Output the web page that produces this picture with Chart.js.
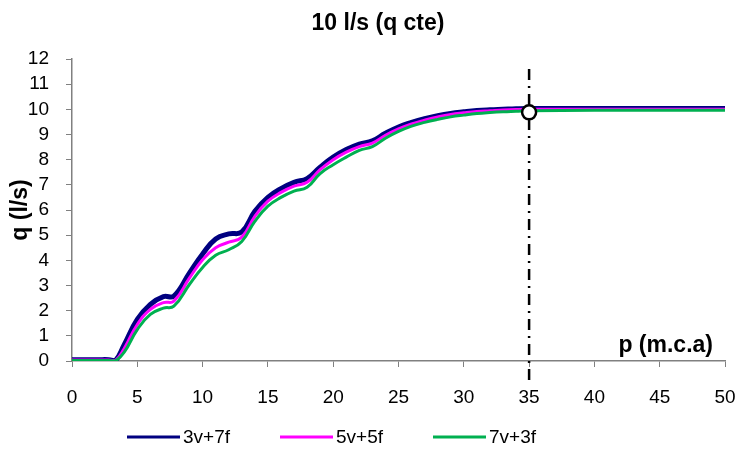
<!DOCTYPE html>
<html>
<head>
<meta charset="utf-8">
<title>10 l/s (q cte)</title>
<script src="https://cdn.jsdelivr.net/npm/chart.js@4.4.1/dist/chart.umd.min.js"></script>
<style>
    html, body { margin: 0; padding: 0; background: #fff; }
</style>
</head>
<body>
<canvas id="chartCurva" width="739" height="450"></canvas>
<script>
// pressão (m.c.a) e vazão (l/s) para cada combinação de válvulas
const pressao = [0, 1, 2, 2.8, 3.3, 4, 5, 6, 7, 7.8, 9, 10, 11, 12, 13, 14, 15, 16, 17, 18, 19,
    20, 21, 22, 23, 24, 25, 26, 27, 28, 29, 30, 31, 32, 33, 34, 35, 40, 45, 50];
const q3v7f = [0.05, 0.05, 0.05, 0.05, 0.0, 0.65, 1.65, 2.25, 2.56, 2.58, 3.5, 4.25, 4.85, 5.05, 5.13,
    5.95, 6.5, 6.85, 7.1, 7.25, 7.7, 8.1, 8.4, 8.62, 8.75, 9.05, 9.3, 9.48, 9.63, 9.75, 9.84, 9.9,
    9.95, 9.98, 10.0, 10.02, 10.03, 10.03, 10.03, 10.03];
const q5v5f = [0.04, 0.04, 0.04, 0.04, 0.0, 0.5, 1.45, 2.05, 2.32, 2.38, 3.3, 4.02, 4.5, 4.72, 4.92,
    5.75, 6.35, 6.7, 6.95, 7.1, 7.6, 8.0, 8.3, 8.52, 8.66, 8.97, 9.22, 9.42, 9.57, 9.7, 9.8, 9.86,
    9.91, 9.94, 9.97, 9.99, 10.0, 10.0, 10.0, 10.0];
const q7v3f = [0.02, 0.02, 0.02, 0.02, 0.0, 0.35, 1.25, 1.85, 2.1, 2.18, 3.05, 3.72, 4.2, 4.42, 4.75,
    5.55, 6.15, 6.5, 6.75, 6.9, 7.45, 7.8, 8.1, 8.37, 8.52, 8.85, 9.12, 9.33, 9.48, 9.6, 9.7, 9.77,
    9.83, 9.87, 9.9, 9.92, 9.94, 9.96, 9.96, 9.96];

const seriesLabels = ["3v+7f", "5v+5f", "7v+3f"];
const seriesColors = ["#000080", "#FF00FF", "#00B050"];
const seriesWidths = [5, 3, 3];

// ponto de operação e linha de referência em p = 35
const pontoOperacao = { x: 35, y: 9.88 };
const linhaRef = { x: 35, yMin: -0.75, yMax: 11.75 };

const fonte = '"Liberation Sans", Arial, sans-serif';

function pontos(serie) {
    return pressao.map((p, i) => ({ x: p, y: serie[i] }));
}

// título, rótulo do eixo x e legenda desenhados à mão
const decoracao = {
    id: "decoracao",
    afterDraw(chart) {
        const { ctx, chartArea } = chart;
        ctx.save();
        ctx.fillStyle = "#000";
        ctx.textBaseline = "middle";

        ctx.font = "bold 23px " + fonte;
        ctx.textAlign = "center";
        ctx.fillText("10 l/s (q cte)", 378, 24);

        ctx.textAlign = "right";
        ctx.fillText("p (m.c.a)", chartArea.right - 12, chartArea.bottom - 15);

        ctx.font = "19px " + fonte;
        ctx.textAlign = "left";
        seriesLabels.forEach((lab, i) => {
            const x0 = 127 + i * 153;
            const y0 = 437;
            ctx.strokeStyle = seriesColors[i];
            ctx.lineWidth = 3;
            ctx.beginPath();
            ctx.moveTo(x0, y0);
            ctx.lineTo(x0 + 53, y0);
            ctx.stroke();
            ctx.fillText(lab, x0 + 56, y0 + 1);
        });
        ctx.restore();
    },
};

const datasets = seriesLabels.map((lab, i) => ({
    label: lab,
    data: pontos([q3v7f, q5v5f, q7v3f][i]),
    borderColor: seriesColors[i],
    backgroundColor: seriesColors[i],
    borderWidth: seriesWidths[i],
    pointRadius: 0,
    tension: 0.45,
    order: 3 - i,
}));

datasets.push({
    label: "ref",
    data: [{ x: linhaRef.x, y: linhaRef.yMin }, { x: linhaRef.x, y: linhaRef.yMax }],
    borderColor: "#000",
    borderWidth: 2.5,
    borderDash: [11, 6, 2, 6],
    pointRadius: 0,
    clip: false,
    order: 0,
});

datasets.push({
    label: "op",
    data: [pontoOperacao],
    showLine: false,
    pointRadius: 7,
    pointBorderWidth: 2.5,
    pointBackgroundColor: "#fff",
    pointBorderColor: "#000",
    clip: false,
    order: -1,
});

const eixoCor = "#808080";

const config = {
    type: "line",
    data: { datasets: datasets },
    options: {
        responsive: false,
        animation: false,
        layout: { padding: { top: 59, right: 14, bottom: 29, left: 0 } },
        plugins: {
            legend: { display: false },
            title: { display: false },
            tooltip: { enabled: false },
        },
        scales: {
            x: {
                type: "linear",
                min: 0,
                max: 50,
                ticks: { stepSize: 5, autoSkip: false, color: "#000", padding: 19, maxRotation: 0, font: { family: fonte, size: 19 } },
                grid: { drawOnChartArea: false, tickLength: 6, color: eixoCor },
                border: { color: eixoCor, width: 1.5 },
                afterFit: (s) => {
                    s.height = 60;
                    s.paddingLeft = 0;
                    s.paddingRight = 0;
                },
            },
            y: {
                min: 0,
                max: 12,
                ticks: { stepSize: 1, autoSkip: false, color: "#000", padding: 17, font: { family: fonte, size: 19 } },
                grid: { drawOnChartArea: false, tickLength: 6, color: eixoCor },
                border: { color: eixoCor, width: 1.5 },
                title: {
                    display: true,
                    text: "q (l/s)",
                    color: "#000",
                    padding: { top: 7, bottom: 0 },
                    font: { family: fonte, size: 23, weight: "bold" },
                },
                afterFit: (s) => {
                    s.width = 72;
                    s.paddingTop = 0;
                    s.paddingBottom = 0;
                },
            },
        },
    },
    plugins: [decoracao],
};

new Chart(document.getElementById("chartCurva"), config);
</script>
</body>
</html>
